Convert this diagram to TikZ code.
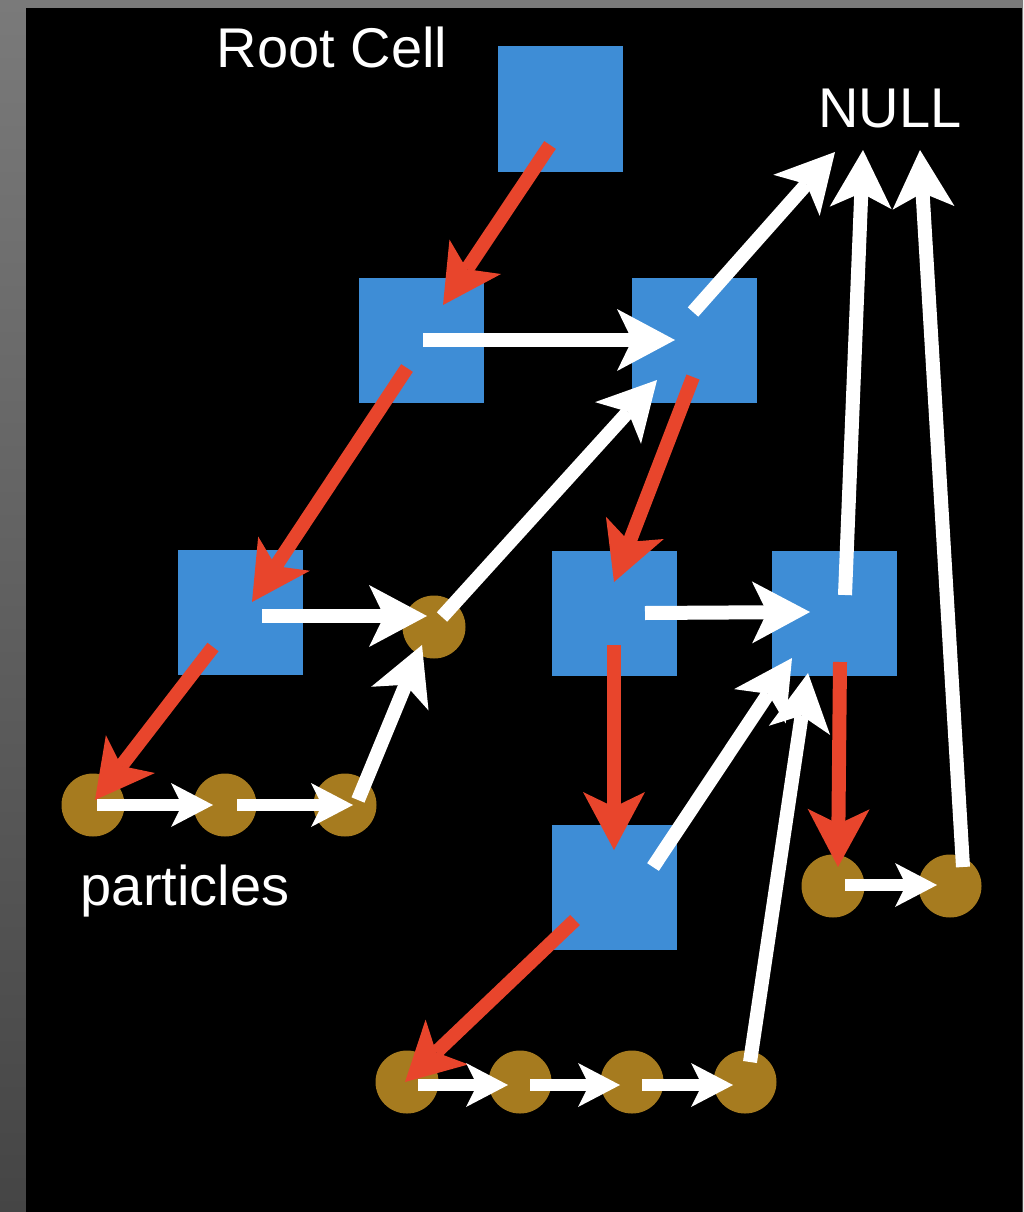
\documentclass[tikz,border=0pt]{standalone}
\usepackage{fontspec}
\setmainfont{Liberation Sans}
\usetikzlibrary{arrows.meta}
\definecolor{cellblue}{HTML}{3E8DD6}
\definecolor{ptrred}{HTML}{E8452C}
\definecolor{partgold}{HTML}{A67B1F}
\definecolor{frametop}{HTML}{7A7A7A}
\definecolor{framebot}{HTML}{454545}
\begin{document}
\begin{tikzpicture}[x=1pt,y=-1pt,
  cell/.style={fill=cellblue, minimum size=125pt, inner sep=0pt},
  part/.style={circle, fill=partgold, minimum size=63pt, inner sep=0pt},
  lbl/.style={text=white, font=\fontsize{56}{67}\selectfont, anchor=base, inner sep=0pt},
  bigarrow/.style={line width=14pt, -{Stealth[length=58pt,width=62pt,inset=15pt,line width=0pt]}},
  smallarrow/.style={line width=12pt, -{Stealth[length=42pt,width=44pt,inset=11pt,line width=0pt]}},
  child/.style={bigarrow, draw=ptrred},
  nextbig/.style={bigarrow, draw=white},
  nextsmall/.style={smallarrow, draw=white}]

% frame and black canvas
\useasboundingbox (0,0) rectangle (1023,1212);
\shade[top color=frametop, bottom color=framebot] (0,0) rectangle (1023,1212);
\fill[black] (26,8) rectangle (1022,1212);

% labels
\node[lbl] (rootlbl) at (332,68) {Root Cell};
\node[lbl] (null) at (890,128) {NULL};
\node[lbl] (plbl) at (185,905) {particles};

% tree cells
\node[cell] (root) at (560.5,109) {};
\node[cell] (A) at (421.5,340) {};
\node[cell] (B) at (694.5,340) {};
\node[cell] (C) at (240,612) {};
\node[cell] (D) at (614,613) {};
\node[cell] (E) at (834,613) {};
\node[cell] (F) at (614,887) {};

% particles
\node[part] (p1) at (93,805) {};
\node[part] (p2) at (225,805) {};
\node[part] (p3) at (345,805) {};
\node[part] (pA) at (434,627) {};
\node[part] (q1) at (833,886) {};
\node[part] (q2) at (950,886) {};
\node[part] (r1) at (407,1082) {};
\node[part] (r2) at (520,1082) {};
\node[part] (r3) at (632,1082) {};
\node[part] (r4) at (745,1082) {};

% child pointers
\draw[child] ([shift={(-10.5,36)}]root.center) -- ([shift={(21.5,-35)}]A.center);
\draw[child] ([shift={(-14.5,28)}]A.center) -- ([shift={(12,-10)}]C.center);
\draw[child] ([shift={(-27,35)}]C.center) -- ([shift={(2,-5)}]p1.center);
\draw[child] ([shift={(-1.5,37)}]B.center) -- ([shift={(0,-31)}]D.center);
\draw[child] ([shift={(0,32)}]D.center) -- ([shift={(0,-37)}]F.center);
\draw[child] ([shift={(6,49)}]E.center) -- ([shift={(5,-19)}]q1.center);
\draw[child] ([shift={(-39,33)}]F.center) -- ([shift={(-2,0)}]r1.center);

% next pointers between cells
\draw[nextbig] ([shift={(1.5,0)}]A.center) -- ([shift={(-19.5,0)}]B.center);
\draw[nextbig] ([shift={(-1.5,-28)}]B.center) -- ([shift={(-55,24)}]null.base);
\draw[nextbig] ([shift={(11,-18)}]E.center) -- ([shift={(-27,22)}]null.base);
\draw[nextbig] ([shift={(13,-19)}]q2.center) -- ([shift={(30,22)}]null.base);
\draw[nextbig] ([shift={(22,4)}]C.center) -- ([shift={(-7,-11)}]pA.center);
\draw[nextbig] ([shift={(8,-10)}]pA.center) -- ([shift={(-37.5,40)}]B.center);
\draw[nextbig] ([shift={(13,-5)}]p3.center) -- ([shift={(-12,18)}]pA.center);
\draw[nextbig] ([shift={(31,0)}]D.center) -- ([shift={(-24,-1)}]E.center);
\draw[nextbig] ([shift={(39,-20)}]F.center) -- ([shift={(-42,45)}]E.center);
\draw[nextbig] ([shift={(5,-20)}]r4.center) -- ([shift={(-26,60)}]E.center);

% next pointers between particles
\draw[nextsmall] ([shift={(4,0)}]p1.center) -- ([shift={(-12,0)}]p2.center);
\draw[nextsmall] ([shift={(12,0)}]p2.center) -- ([shift={(8,0)}]p3.center);
\draw[nextsmall] ([shift={(12,-1)}]q1.center) -- ([shift={(-13,-1)}]q2.center);
\draw[nextsmall] ([shift={(11,3)}]r1.center) -- ([shift={(-12,3)}]r2.center);
\draw[nextsmall] ([shift={(10,3)}]r2.center) -- ([shift={(-12,3)}]r3.center);
\draw[nextsmall] ([shift={(10,3)}]r3.center) -- ([shift={(-12,3)}]r4.center);
\end{tikzpicture}
\end{document}
